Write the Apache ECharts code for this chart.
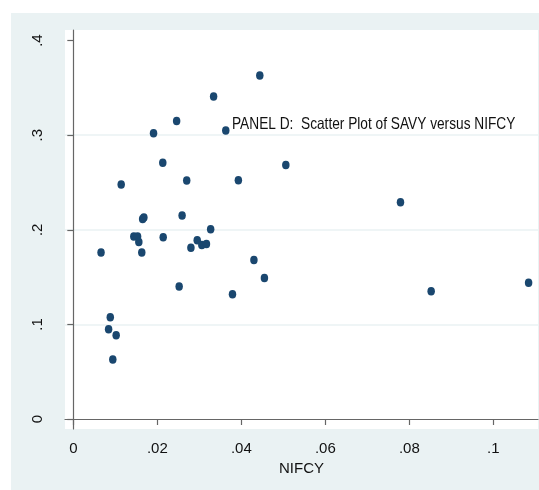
<!DOCTYPE html>
<html>
<head>
<meta charset="utf-8">
<script src="https://cdn.jsdelivr.net/npm/echarts@6/dist/echarts.min.js"></script>
<style>
  html, body { margin: 0; padding: 0; background: #ffffff; }
  #chart { position: absolute; left: 11px; top: 13px; width: 528px; height: 477px; }
</style>
</head>
<body>
<div id="chart"></div>
<script>
// NIFCY (x) and SAVY (y)
const nifcy = [
  0.0066, 0.0084, 0.0088, 0.0094, 0.0102, 0.0114, 0.0144, 0.0153, 0.0156, 0.0163,
  0.0165, 0.0168, 0.0191, 0.0213, 0.0214, 0.0246, 0.0252, 0.0259, 0.0270, 0.0280,
  0.0295, 0.0306, 0.0317, 0.0327, 0.0334, 0.0363, 0.0379, 0.0393, 0.0430, 0.0444,
  0.0455, 0.0506, 0.0779, 0.0852, 0.1084
]
const savy = [
  0.176, 0.095, 0.1075, 0.063, 0.0885, 0.248, 0.193, 0.193, 0.187, 0.176,
  0.2115, 0.213, 0.302, 0.271, 0.192, 0.315, 0.140, 0.215, 0.252, 0.181,
  0.189, 0.184, 0.185, 0.2005, 0.341, 0.305, 0.132, 0.2525, 0.168, 0.363,
  0.149, 0.2685, 0.229, 0.135, 0.144
]
const xTicks = [0, 0.02, 0.04, 0.06, 0.08, 0.1]
const xTickLabels = ['0', '.02', '.04', '.06', '.08', '.1']
const yTicks = [0, 0.1, 0.2, 0.3, 0.4]
const yTickLabels = ['0', '.1', '.2', '.3', '.4']

const font = "'Liberation Sans', Arial, sans-serif"

const labelFor = (ticks, labels) => (v) => {
  const i = ticks.findIndex(t => Math.abs(t - v) < 1e-9)
  return i >= 0 ? labels[i] : ''
}

const chart = echarts.init(document.getElementById('chart'))

chart.setOption({
  backgroundColor: '#EAF2F3',
  animation: false,
  // the original uses a narrow face, so squeeze the text sideways
  graphic: [
    {
      type: 'text',
      x: 221,
      y: 103,
      scaleX: 0.83,
      z: 10,
      style: {
        text: 'PANEL D:  Scatter Plot of SAVY versus NIFCY',
        font: '16.5px ' + font,
        fill: '#111',
        verticalAlign: 'top'
      }
    }
  ],
  grid: {
    left: 54,
    top: 17,
    width: 473,
    height: 399,
    show: true,
    backgroundColor: '#ffffff',
    borderWidth: 0
  },
  xAxis: {
    type: 'value',
    min: -0.00198,
    max: 0.11064,
    name: 'NIFCY',
    nameLocation: 'middle',
    nameGap: 25,
    nameTextStyle: { fontFamily: font, fontSize: 15, color: '#111' },
    axisLine: { show: true, lineStyle: { color: '#666', width: 1.2 } },
    axisTick: { show: true, length: 6, customValues: xTicks, lineStyle: { color: '#666', width: 1.2 } },
    axisLabel: {
      customValues: xTicks,
      formatter: labelFor(xTicks, xTickLabels),
      margin: 12,
      fontFamily: font,
      fontSize: 15,
      color: '#111'
    },
    splitLine: { show: false }
  },
  yAxis: {
    type: 'value',
    min: -0.01057,
    max: 0.41121,
    splitNumber: 4,
    axisLine: { show: true, lineStyle: { color: '#666', width: 1.2 } },
    axisTick: { show: true, length: 6, customValues: yTicks, lineStyle: { color: '#666', width: 1.2 } },
    axisLabel: {
      customValues: yTicks,
      formatter: labelFor(yTicks, yTickLabels),
      rotate: 90,
      margin: 20,
      fontFamily: font,
      fontSize: 15,
      color: '#111'
    },
    splitLine: {
      show: true,
      showMinLine: false,
      showMaxLine: false,
      lineStyle: { color: '#EAF2F3', width: 1.5 }
    }
  },
  series: [
    {
      type: 'scatter',
      data: nifcy.map((x, i) => [x, savy[i]]),
      symbol: 'circle',
      symbolSize: [7.5, 8.5],
      itemStyle: { color: '#1A476F', opacity: 1 }
    }
  ]
})
</script>
</body>
</html>
